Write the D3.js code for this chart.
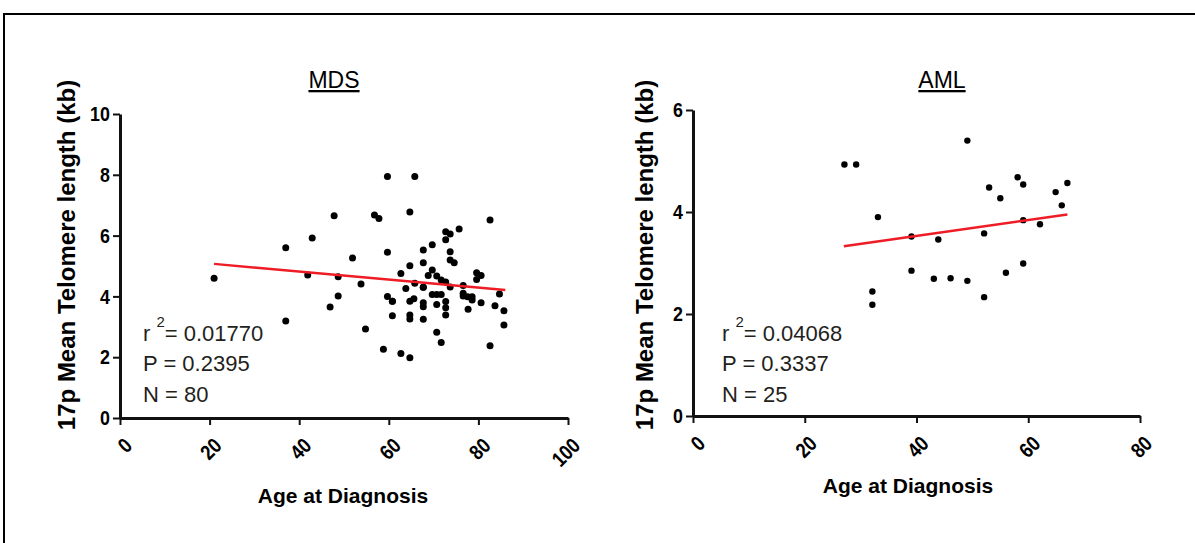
<!DOCTYPE html>
<html>
<head>
<meta charset="utf-8">
<script src="https://cdnjs.cloudflare.com/ajax/libs/d3/7.8.5/d3.min.js"></script>
<style>
    body { margin: 0; background: #fff; }
    .tick text { font-family: "Liberation Sans", Arial, sans-serif; font-weight: bold; font-size: 21px; fill: #000; }
    .titleY { font-family: "Liberation Sans", Arial, sans-serif; font-weight: bold; font-size: 24px; }
    .titleX { font-family: "Liberation Sans", Arial, sans-serif; font-weight: bold; font-size: 21px; }
    .panelTitle { font-family: "Liberation Sans", Arial, sans-serif; font-size: 23px; text-decoration: underline; }
    .stats { font-family: "Liberation Sans", Arial, sans-serif; font-size: 22px; fill: #231f20; }
</style>
</head>
<body>
<div id="chart"></div>
<script>

// MDS patients: age at diagnosis / 17p mean telomere length (kb)
const mdsAge = [21.0, 37.0, 37.0, 42.9, 41.9, 47.8, 46.9, 48.7, 48.7, 51.9,
    53.8, 54.8, 56.8, 57.8, 58.8, 59.7, 59.7, 59.7, 60.8, 60.8,
    62.7, 62.7, 63.8, 64.7, 64.7, 64.7, 65.6, 64.7, 64.7, 64.7,
    65.8, 65.8, 67.7, 67.7, 67.7, 67.7, 67.7, 67.7, 69.7, 69.7,
    68.8, 70.7, 71.7, 69.7, 70.7, 71.7, 70.7, 70.7, 71.7, 72.7,
    73.7, 72.7, 72.7, 72.7, 72.7, 73.7, 73.7, 74.6, 75.7, 82.6,
    72.7, 73.7, 76.6, 76.6, 77.6, 78.6, 78.6, 77.7, 79.6, 80.6,
    79.6, 80.6, 83.7, 84.7, 85.7, 85.7, 82.6, 76.6, 67.7, 60.8];
const mdsTelomere = [4.60, 5.60, 3.19, 5.92, 4.70, 6.65, 3.65, 4.01, 4.65, 5.26,
    4.41, 2.93, 6.68, 6.56, 2.26, 7.94, 5.45, 4.00, 3.84, 3.36,
    2.12, 4.75, 4.26, 6.78, 5.01, 3.84, 3.92, 3.39, 3.26, 1.98,
    7.94, 4.43, 5.53, 5.11, 4.30, 3.79, 3.66, 3.25, 5.70, 4.87,
    4.69, 4.67, 4.54, 4.06, 4.06, 4.06, 3.73, 2.82, 2.48, 6.13,
    6.05, 5.86, 3.83, 3.63, 3.39, 5.47, 5.20, 5.11, 6.22, 6.51,
    4.47, 4.31, 4.36, 4.10, 3.99, 3.99, 3.88, 3.58, 4.78, 4.69,
    4.56, 3.79, 3.69, 4.08, 3.53, 3.06, 2.38, 4.01, 4.30, 3.84];

// AML patients
const amlAge = [27.1, 29.2, 33.1, 39.1, 43.9, 39.1, 43.1, 32.1, 32.1, 49.1,
    53.0, 55.0, 58.1, 59.1, 64.9, 67.0, 66.0, 59.1, 62.1, 52.1,
    46.1, 49.1, 52.1, 56.0, 59.1];
const amlTelomere = [4.93, 4.93, 3.90, 3.52, 3.46, 2.85, 2.69, 2.44, 2.18, 5.40,
    4.48, 4.27, 4.68, 4.54, 4.39, 4.57, 4.13, 3.84, 3.76, 3.58,
    2.70, 2.65, 2.33, 2.81, 2.99];

// linear fits (slope, intercept) and their age span
const mdsFit = [-0.0132, 5.347];
const mdsFitSpan = [21, 86];
const amlFit = [0.01558, 2.908];
const amlFitSpan = [27, 67];

// tick values
const mdsXTicks = [0, 20, 40, 60, 80, 100];
const mdsYTicks = [0, 2, 4, 6, 8, 10];
const amlXTicks = [0, 20, 40, 60, 80];
const amlYTicks = [0, 2, 4, 6];

const mdsStats = ["0.01770", "0.2395", "80"];
const amlStats = ["0.04068", "0.3337", "25"];

const svg = d3.select("#chart")
    .append("svg")
    .attr("width", 1195)
    .attr("height", 543);

// frame round the figure
svg.append("path")
    .attr("d", "M4,543 L4,14 L1200,14")
    .attr("fill", "none")
    .attr("stroke", "#000")
    .attr("stroke-width", 2);

function drawPanel(p){
    let x = d3.scaleLinear().domain(p.xDomain).range(p.xRange);
    let y = d3.scaleLinear().domain(p.yDomain).range(p.yRange);

    let g = svg.append("g");

    // x axis
    let xAxis = g.append("g")
        .attr("transform", "translate(0," + p.yRange[0] + ")")
        .call(d3.axisBottom(x).tickValues(p.xTicks).tickSize(7).tickSizeOuter(0).tickFormat(d => d));
    xAxis.selectAll(".tick text")
        .attr("x", 0)
        .attr("y", 0)
        .attr("dy", 0)
        .attr("text-anchor", "end")
        .attr("transform", "translate(13,29) rotate(-45) scale(0.85,1)");

    // y axis
    let yAxis = g.append("g")
        .attr("transform", "translate(" + p.xRange[0] + ",0)")
        .call(d3.axisLeft(y).tickValues(p.yTicks).tickSize(7).tickSizeOuter(0).tickPadding(3).tickFormat(d => d));
    yAxis.selectAll(".tick text")
        .attr("x", -12)
        .attr("transform", "scale(0.85,1)");

    g.selectAll(".domain").attr("stroke-width", 3).attr("stroke", "#111");
    g.selectAll(".tick line").attr("stroke-width", 2).attr("stroke", "#111");

    // points
    g.append("g")
        .selectAll("circle")
        .data(p.ages.map((a, i) => ({age: a, value: p.values[i]})))
        .enter().append("circle")
        .attr("cx", d => x(d.age))
        .attr("cy", d => y(d.value))
        .attr("r", p.r)
        .attr("fill", "#000");

    // regression line
    g.append("line")
        .attr("x1", x(p.fitSpan[0]))
        .attr("y1", y(p.fit[0] * p.fitSpan[0] + p.fit[1]))
        .attr("x2", x(p.fitSpan[1]))
        .attr("y2", y(p.fit[0] * p.fitSpan[1] + p.fit[1]))
        .attr("stroke", "#ee1c25")
        .attr("stroke-width", 2.5);

    // titles
    g.append("text")
        .attr("class", "panelTitle")
        .attr("x", p.titleX)
        .attr("y", 88)
        .attr("text-anchor", "middle")
        .text(p.title);

    g.append("text")
        .attr("class", "titleY")
        .attr("transform", "translate(" + p.yTitleX + ",255) rotate(-90)")
        .attr("text-anchor", "middle")
        .text("17p Mean Telomere length (kb)");

    g.append("text")
        .attr("class", "titleX")
        .attr("x", p.xTitleX)
        .attr("y", p.xTitleY)
        .attr("text-anchor", "middle")
        .text("Age at Diagnosis");

    // r2, P, N
    let sx = p.statsX;
    let r2 = g.append("text").attr("class", "stats").attr("x", sx).attr("y", 341);
    r2.append("tspan").text("r ");
    r2.append("tspan").attr("dy", -14).style("font-size", "15px").text("2");
    r2.append("tspan").attr("dy", 14).text("= " + p.stats[0]);

    g.append("text").attr("class", "stats").attr("x", sx).attr("y", 371).text("P = " + p.stats[1]);
    g.append("text").attr("class", "stats").attr("x", sx).attr("y", 402).text("N = " + p.stats[2]);
}

drawPanel({
    title: "MDS", titleX: 334,
    ages: mdsAge, values: mdsTelomere, r: 3.5,
    xDomain: [0, 100], xRange: [120, 568], xTicks: mdsXTicks,
    yDomain: [0, 10], yRange: [418, 114], yTicks: mdsYTicks,
    fit: mdsFit, fitSpan: mdsFitSpan,
    yTitleX: 75, xTitleX: 343, xTitleY: 503,
    statsX: 143, stats: mdsStats
});

drawPanel({
    title: "AML", titleX: 942,
    ages: amlAge, values: amlTelomere, r: 3.2,
    xDomain: [0, 80], xRange: [693, 1140], xTicks: amlXTicks,
    yDomain: [0, 6], yRange: [416, 110], yTicks: amlYTicks,
    fit: amlFit, fitSpan: amlFitSpan,
    yTitleX: 653, xTitleX: 908, xTitleY: 493,
    statsX: 722, stats: amlStats
});

</script>
</body>
</html>
